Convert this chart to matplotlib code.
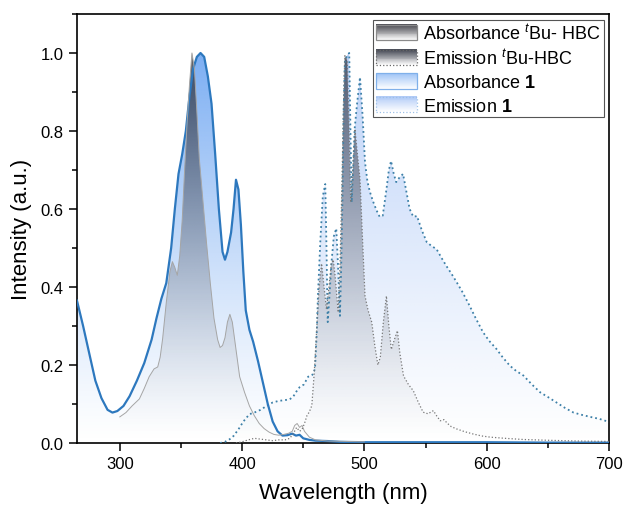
"""Absorbance / emission spectra of tBu-HBC and compound 1 (gradient filled)"""
import matplotlib
matplotlib.use('Agg')
import matplotlib.pyplot as plt
from matplotlib.patches import Polygon, Rectangle, Patch
from matplotlib.legend_handler import HandlerBase
from matplotlib.colors import to_rgb
import matplotlib.ticker as mticker
import numpy as np

plt.rcParams['font.family'] = ['Liberation Sans', 'DejaVu Sans']
plt.rcParams['mathtext.fontset'] = 'custom'
plt.rcParams['mathtext.rm'] = 'Liberation Sans'
plt.rcParams['mathtext.it'] = 'Liberation Sans:italic'
plt.rcParams['mathtext.bf'] = 'Liberation Sans:bold'

# --- data (wavelength nm, normalised intensity) ---
abs1_wl = [265, 270, 275, 280, 285, 290, 294, 298, 303, 308, 314, 320, 326, 330, 334, 338,
           342, 345, 348, 351, 354, 357, 360, 363, 366, 369, 372, 375, 378, 381, 384, 386,
           388, 391, 393, 395, 397, 399, 401, 403, 406, 409, 413, 417, 421, 425, 429, 433,
           437, 441, 444, 447, 450, 455, 460, 470, 480, 500, 550, 600, 650, 700]
abs1_int = [0.365, 0.30, 0.23, 0.16, 0.115, 0.085, 0.078, 0.082, 0.095, 0.12, 0.16, 0.205,
            0.265, 0.32, 0.37, 0.41, 0.50, 0.60, 0.69, 0.74, 0.80, 0.89, 0.96, 0.99, 1.0,
            0.99, 0.94, 0.87, 0.74, 0.60, 0.49, 0.47, 0.49, 0.54, 0.60, 0.675, 0.65, 0.56,
            0.44, 0.34, 0.29, 0.26, 0.21, 0.155, 0.10, 0.055, 0.03, 0.019, 0.02, 0.024,
            0.019, 0.021, 0.012, 0.008, 0.006, 0.005, 0.003, 0.002, 0.002, 0.002, 0.001, 0.001]

absHBC_wl = [300, 305, 310, 316, 320, 324, 328, 331, 333, 335, 338, 341, 343, 345, 347, 349,
             351, 353, 355, 357, 359, 361, 363, 365, 368, 371, 374, 377, 380, 382, 384, 386,
             388, 390, 392, 395, 398, 402, 406, 410, 414, 418, 422, 426, 430, 434, 438, 441,
             443, 445, 447, 449, 451, 455, 460, 470, 500]
absHBC_int = [0.067, 0.078, 0.095, 0.113, 0.14, 0.17, 0.19, 0.195, 0.22, 0.267, 0.36, 0.44,
              0.465, 0.45, 0.43, 0.48, 0.57, 0.70, 0.82, 0.92, 1.0, 0.96, 0.85, 0.73, 0.62,
              0.51, 0.41, 0.32, 0.265, 0.245, 0.25, 0.27, 0.31, 0.33, 0.31, 0.24, 0.17, 0.13,
              0.095, 0.07, 0.05, 0.037, 0.028, 0.022, 0.02, 0.022, 0.025, 0.03, 0.045, 0.05,
              0.04, 0.045, 0.03, 0.015, 0.008, 0.005, 0.003]

emHBC_wl = [395, 400, 405, 410, 415, 420, 425, 430, 435, 439, 442, 444.6, 447, 449, 451, 453,
            455, 457, 459, 461, 463, 465, 467, 469, 471, 473, 474.5, 476, 478.6, 480, 481.4,
            483, 484, 486, 487.5, 488.8, 490.5, 492.3, 494, 496.4, 498.5, 500.5, 503, 506,
            508.5, 511, 513, 515.5, 518, 520, 522, 524.5, 527, 529, 532, 536, 540, 544, 548,
            552, 556.4, 559, 562, 565, 568, 571, 575.5, 582, 589, 596, 603, 615, 630, 650,
            675, 700]
emHBC_int = [0.0, 0.003, 0.008, 0.012, 0.01, 0.008, 0.006, 0.008, 0.008, 0.012, 0.025, 0.04,
             0.03, 0.035, 0.05, 0.07, 0.08, 0.096, 0.18, 0.292, 0.40, 0.46, 0.40, 0.343, 0.40,
             0.46, 0.47, 0.43, 0.335, 0.45, 0.634, 0.88, 0.993, 0.98, 0.80, 0.617, 0.70,
             0.805, 0.75, 0.677, 0.52, 0.377, 0.34, 0.31, 0.25, 0.20, 0.22, 0.31, 0.377, 0.30,
             0.24, 0.265, 0.288, 0.23, 0.172, 0.15, 0.134, 0.105, 0.079, 0.075, 0.083, 0.07,
             0.057, 0.06, 0.05, 0.042, 0.036, 0.029, 0.023, 0.018, 0.015, 0.012, 0.009, 0.007,
             0.005, 0.004]

em1_wl = [382, 386, 390, 393, 397, 401, 406, 410, 415, 420, 425, 430, 435, 439, 442, 445,
          447, 450.5, 454, 457.5, 459.6, 461, 462, 464, 466, 468, 469, 470, 471.5, 473, 475,
          477, 478.5, 480, 481, 482, 483, 484, 486, 487.6, 488.6, 489.6, 491, 492, 494,
          496.4, 498.5, 500.5, 502.5, 504.6, 507, 510, 512.5, 515, 518, 520, 521.8, 524, 526,
          528.5, 531.6, 534, 537, 540, 543, 547, 551, 555, 559, 563, 567, 571, 575.5, 580,
          586, 591, 597, 602, 608, 613, 619, 624, 630, 637, 643.7, 650, 657, 664, 671, 678,
          684.6, 692, 700]
em1_int = [0.0, 0.003, 0.01, 0.018, 0.035, 0.055, 0.074, 0.078, 0.085, 0.095, 0.104, 0.108,
           0.11, 0.112, 0.12, 0.135, 0.143, 0.15, 0.17, 0.175, 0.19, 0.28, 0.377, 0.52, 0.633,
           0.664, 0.50, 0.31, 0.38, 0.46, 0.53, 0.55, 0.45, 0.326, 0.45, 0.617, 0.85, 0.977,
           0.995, 1.0, 0.80, 0.617, 0.72, 0.805, 0.87, 0.938, 0.84, 0.72, 0.67, 0.643, 0.62,
           0.596, 0.58, 0.583, 0.65, 0.70, 0.723, 0.69, 0.669, 0.68, 0.69, 0.65, 0.60, 0.58,
           0.582, 0.545, 0.515, 0.505, 0.497, 0.475, 0.454, 0.435, 0.412, 0.388, 0.352, 0.32,
           0.284, 0.262, 0.241, 0.22, 0.198, 0.185, 0.173, 0.15, 0.13, 0.118, 0.104, 0.09,
           0.078, 0.072, 0.067, 0.062, 0.054]

labels = [r"Absorbance $^{\mathit{t}}$Bu- HBC", r"Emission $^{\mathit{t}}$Bu-HBC",
          r"Absorbance $\mathbf{1}$", r"Emission $\mathbf{1}$"]

XMIN, XMAX, YMAX = 265, 700, 1.1

# (fill colour, max alpha, gradient exponent, line colour, line style, line width, zorder,
#  legend edge colour)
styles = [
    ("#2c2c34", 0.78, 1.5, "#a5a5a5", "-", 0.7, 3, "#8a8a8a"),
    ("#262a38", 0.72, 1.4, "#777777", ":", 0.9, 4, "#666666"),
    ("#5b9af0", 0.80, 1.2, "#2d78be", "-", 1.6, 2, "#7fb0ea"),
    ("#7aa6f2", 0.50, 1.1, "#3d80a8", ":", 1.3, 1, "#9cc0e8"),
]
series = [(absHBC_wl, absHBC_int), (emHBC_wl, emHBC_int), (abs1_wl, abs1_int), (em1_wl, em1_int)]


def gradient_fill(ax, x, y, color, amax, expo, z):
    rgb = np.array(to_rgb(color))
    yy = np.linspace(0, YMAX, 300)
    img = np.zeros((300, 2, 4))
    img[:, :, :3] = rgb
    img[:, :, 3] = (amax * np.clip(yy / 1.0, 0, 1) ** expo)[:, None]
    verts = [(x[0], 0)] + list(zip(x, y)) + [(x[-1], 0)]
    poly = Polygon(verts, closed=True, transform=ax.transData, facecolor='none', edgecolor='none')
    ax.add_patch(poly)
    im = ax.imshow(img, extent=[XMIN, XMAX, 0, YMAX], origin='lower', aspect='auto',
                   zorder=z, interpolation='bilinear')
    im.set_clip_path(poly)


class GradHandler(HandlerBase):
    def __init__(self, color, amax, edge, ls):
        super().__init__()
        self.color, self.amax, self.edge, self.ls = color, amax, edge, ls

    def create_artists(self, legend, orig_handle, xdescent, ydescent, width, height,
                       fontsize, trans):
        rgb = np.array(to_rgb(self.color))
        arts = []
        n = 16
        for i in range(n):
            f = (i + 0.5) / n
            a = self.amax * f
            c = (1 - a) * np.ones(3) + a * rgb
            arts.append(Rectangle((-xdescent, -ydescent + i * height / n), width, height / n + 0.3,
                                  facecolor=c, lw=0, transform=trans))
        arts.append(Rectangle((-xdescent, -ydescent), width, height, fill=False,
                              edgecolor=self.edge, lw=0.9, linestyle=self.ls, transform=trans))
        return arts


fig = plt.figure(figsize=(6.27, 5.10), dpi=100)
ax = fig.add_axes([0.1228, 0.1294, 0.8485, 0.8412])

for (x, y), st in zip(series, styles):
    gradient_fill(ax, x, y, st[0], st[1], st[2], st[6])
for (x, y), st in zip(series, styles):
    ax.plot(x, y, color=st[3], linestyle=st[4], linewidth=st[5], zorder=5 + st[6])

ax.set_xlim(XMIN, XMAX)
ax.set_ylim(0, YMAX)
ax.xaxis.set_major_locator(mticker.MultipleLocator(100))
ax.xaxis.set_minor_locator(mticker.MultipleLocator(50))
ax.yaxis.set_major_locator(mticker.MultipleLocator(0.2))
ax.yaxis.set_minor_locator(mticker.MultipleLocator(0.1))
ax.yaxis.set_major_formatter(mticker.FormatStrFormatter('%.1f'))
ax.tick_params(which='major', direction='out', length=6, width=1.1, labelsize=12)
ax.tick_params(which='minor', direction='out', length=3.5, width=1.1)
for s in ax.spines.values():
    s.set_linewidth(1.2)
ax.set_xlabel("Wavelength (nm)", fontsize=16, labelpad=8)
ax.set_ylabel("Intensity (a.u.)", fontsize=16, labelpad=6)

handles = [Patch() for _ in labels]
hmap = {h: GradHandler(st[0], 0.85 if i < 2 else 0.6, st[7], st[4])
        for i, (h, st) in enumerate(zip(handles, styles))}
leg = ax.legend(handles, labels, handler_map=hmap, loc='upper right', bbox_to_anchor=(0.99, 0.985),
                fontsize=13, frameon=True, fancybox=False, edgecolor='#555555', framealpha=1,
                borderpad=0.15, handlelength=2.3, handleheight=0.95, handletextpad=0.35,
                labelspacing=0.3, borderaxespad=0)
leg.get_frame().set_linewidth(0.8)

fig.savefig("out.png", dpi=100)
